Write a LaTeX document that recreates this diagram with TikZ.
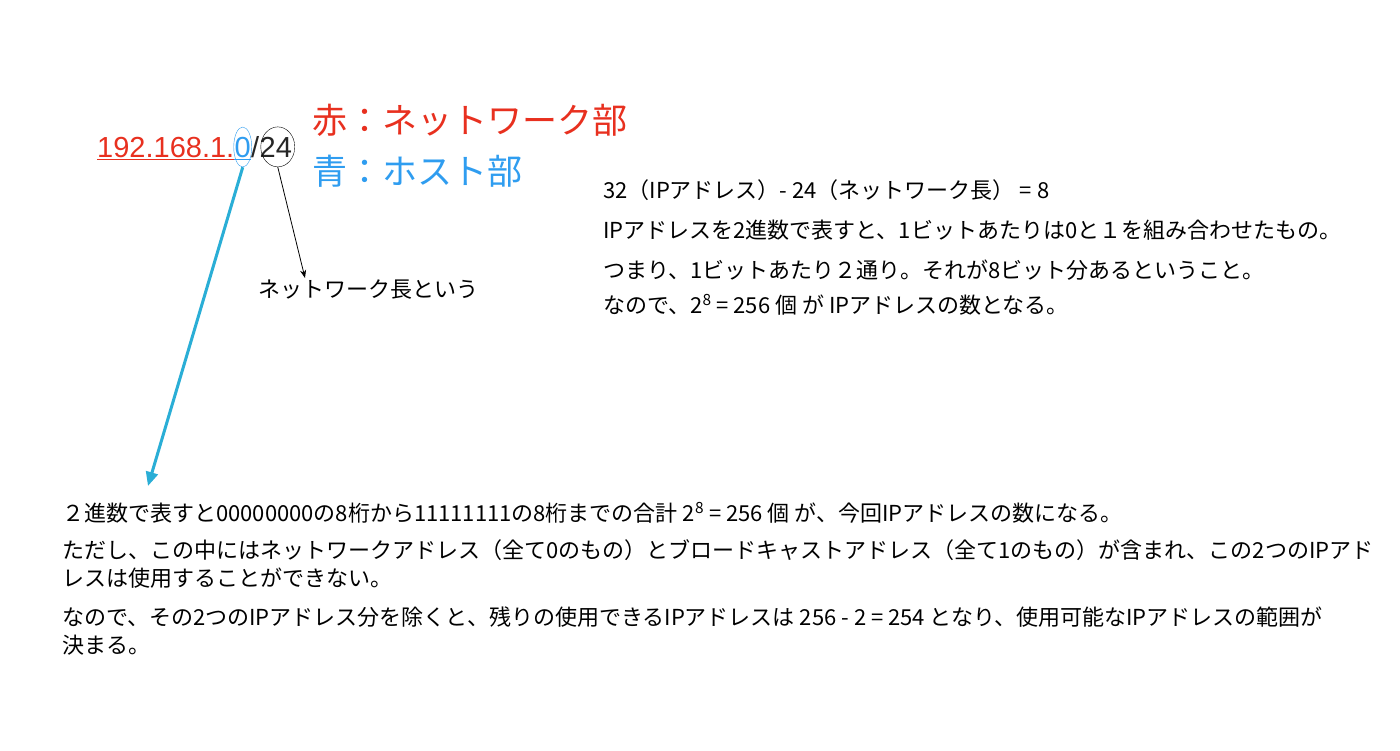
\documentclass[tikz,border=0pt]{standalone}
\usepackage{fontspec}
\setmainfont{Noto Sans CJK JP}
\newfontfamily\latinfont{Liberation Sans}
\usetikzlibrary{arrows.meta,positioning,shapes.geometric}
\definecolor{netred}{HTML}{E8301F}
\definecolor{hostblue}{HTML}{2F9DF0}
\definecolor{arrowcyan}{HTML}{2AAED6}
\begin{document}
\begin{tikzpicture}[x=1pt,y=-1pt,
		body/.style={anchor=base west,inner sep=0pt,font=\fontsize{22}{27}\selectfont},
		legend/.style={anchor=base west,inner sep=0pt,font=\fontsize{35}{40}\selectfont},
		addr/.style={anchor=base west,inner sep=0pt,font=\latinfont\fontsize{29}{34}\selectfont},
		ring/.style={draw,ellipse,inner sep=0pt,minimum width=#1,minimum height=40pt}]
			\useasboundingbox[fill=white] (0,0) rectangle (1400,750);
			\node[addr,text=netred] (net) at (97,157) {192.168.1.};
			\node[addr,text=hostblue] (host) at (net.base east) {0};
			\node[addr,text=black!85] (slash) at (host.base east) {/};
			\node[addr,text=black!85] (len) at (slash.base east) {24};
			\draw[netred,line width=1.2pt] ([yshift=-2.5pt]net.base west) -- ([yshift=-2.5pt]net.base east);
			\draw[hostblue,line width=1.2pt] ([yshift=-2.5pt]net.base east) -- ([yshift=-2.5pt]host.base east);
			\node[ring=18pt,hostblue] (hostring) at (host.center) {};
			\node[ring=34pt,black] (lenring) at ([xshift=2pt]len.center) {};
			\node[legend,text=netred] (redkey) at (312,133) {赤：ネットワーク部};
			\node[legend,text=hostblue] (bluekey) at (312,184) {青：ホスト部};
			\node[body] (lenlabel) at (258,297) {ネットワーク長という};
			\coordinate (lentip) at (305,278);
			\draw[-{Stealth[length=8pt,width=6pt]},line width=0.8pt] (lenring.south) -- (lentip);
			\coordinate (bintip) at (148,486);
			\draw[arrowcyan,line width=3pt,-{Triangle[length=14pt,width=12pt]}] (hostring.south) -- (bintip);
			\node[body] (calc1) at (603,198) {32（IPアドレス）- 24（ネットワーク長） = 8};
			\node[body] (calc2) at (603,238) {IPアドレスを2進数で表すと、1ビットあたりは0と１を組み合わせたもの。};
			\node[body] (calc3) at (603,278) {つまり、1ビットあたり２通り。それが8ビット分あるということ。};
			\node[body] (calc4) at (603,313) {なので、2\textsuperscript{8} = 256 個 が IPアドレスの数となる。};
			\node[body] (bin1) at (62,521) {２進数で表すと00000000の8桁から11111111の8桁までの合計 2\textsuperscript{8} = 256 個 が、今回IPアドレスの数になる。};
			\node[body] (bin2) at (62,558) {ただし、この中にはネットワークアドレス（全て0のもの）とブロードキャストアドレス（全て1のもの）が含まれ、この2つのIPアド};
			\node[body] (bin3) at (62,586) {レスは使用することができない。};
			\node[body] (bin4) at (62,625) {なので、その2つのIPアドレス分を除くと、残りの使用できるIPアドレスは 256 - 2 = 254 となり、使用可能なIPアドレスの範囲が};
			\node[body] (bin5) at (62,653) {決まる。};
		\end{tikzpicture}
\end{document}
